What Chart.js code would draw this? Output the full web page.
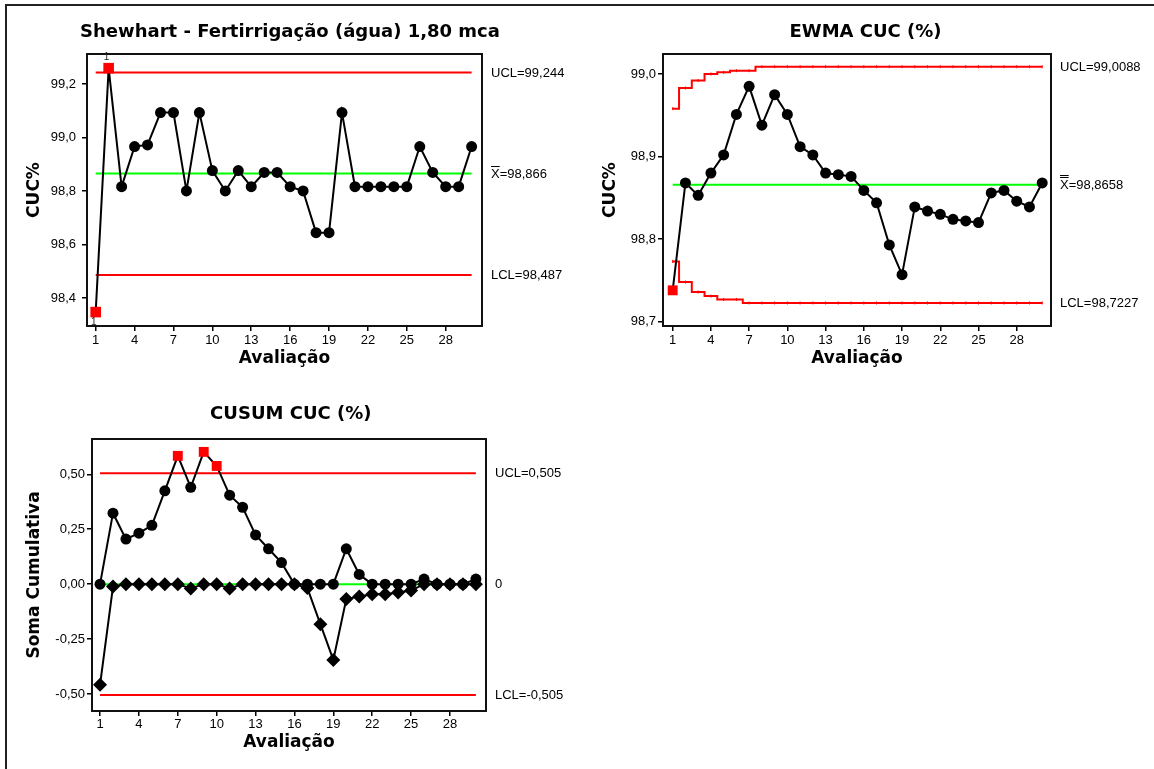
<!DOCTYPE html>
<html lang="pt">
<head>
<meta charset="utf-8">
<title>Cartas de controle - CUC</title>
<script src="https://cdn.jsdelivr.net/npm/chart.js@4.4.1/dist/chart.umd.min.js"></script>
<style>
  html, body { margin: 0; padding: 0; background: #fff; }
  #page { position: relative; width: 1154px; height: 769px; overflow: hidden; }
  #frame { position: absolute; left: 5px; top: 4px; width: 1200px; height: 800px; border: 2px solid #222; }
  canvas { position: absolute; }
  #cShew { left: 0; top: 0; }
  #cEwma { left: 575px; top: 0; }
  #cCusum { left: 0; top: 385px; }
</style>
</head>
<body>
<div id="page">
  <div id="frame"></div>
  <canvas id="cShew" width="575" height="385"></canvas>
  <canvas id="cEwma" width="579" height="385"></canvas>
  <canvas id="cCusum" width="575" height="384"></canvas>
</div>
<script>
const evals = [1, 2, 3, 4, 5, 6, 7, 8, 9, 10, 11, 12, 13, 14, 15, 16, 17, 18, 19, 20, 21, 22, 23, 24, 25, 26, 27, 28, 29, 30];
const xTicks = [1, 4, 7, 10, 13, 16, 19, 22, 25, 28];

// Shewhart (individuais)
const shewCuc = [98.348, 99.26, 98.817, 98.967, 98.973, 99.094, 99.094, 98.801, 99.094, 98.877,
  98.801, 98.877, 98.817, 98.870, 98.870, 98.817, 98.801, 98.645, 98.645, 99.094,
  98.817, 98.817, 98.817, 98.817, 98.817, 98.967, 98.870, 98.817, 98.817, 98.967];
const shewUcl = 99.244;
const shewMean = 98.866;
const shewLcl = 98.487;
const shewYTicks = [98.4, 98.6, 98.8, 99.0, 99.2];

// EWMA
const ewmaCuc = [98.738, 98.868, 98.853, 98.880, 98.902, 98.951, 98.985, 98.938, 98.975, 98.951,
  98.912, 98.902, 98.880, 98.878, 98.876, 98.859, 98.844, 98.793, 98.757, 98.839,
  98.834, 98.830, 98.824, 98.822, 98.820, 98.856, 98.859, 98.846, 98.839, 98.868];
const ewmaUcl = [98.958, 98.983, 98.992, 99.000, 99.002, 99.004, 99.004, 99.0088, 99.0088, 99.0088,
  99.0088, 99.0088, 99.0088, 99.0088, 99.0088, 99.0088, 99.0088, 99.0088, 99.0088, 99.0088,
  99.0088, 99.0088, 99.0088, 99.0088, 99.0088, 99.0088, 99.0088, 99.0088, 99.0088, 99.0088];
const ewmaLcl = [98.773, 98.748, 98.736, 98.731, 98.727, 98.727, 98.7227, 98.7227, 98.7227, 98.7227,
  98.7227, 98.7227, 98.7227, 98.7227, 98.7227, 98.7227, 98.7227, 98.7227, 98.7227, 98.7227,
  98.7227, 98.7227, 98.7227, 98.7227, 98.7227, 98.7227, 98.7227, 98.7227, 98.7227, 98.7227];
const ewmaMean = 98.8658;
const ewmaYTicks = [98.7, 98.8, 98.9, 99.0];

// CUSUM
const cusumUp = [0, 0.323, 0.205, 0.232, 0.268, 0.425, 0.584, 0.441, 0.602, 0.538,
  0.405, 0.350, 0.224, 0.161, 0.098, 0, 0, 0, 0, 0.161,
  0.044, 0, 0, 0, 0, 0.023, 0, 0, 0, 0.023];
const cusumLo = [-0.458, -0.011, 0, 0, 0, 0, 0, -0.02, 0, 0,
  -0.02, 0, 0, 0, 0, 0, -0.018, -0.182, -0.345, -0.068,
  -0.056, -0.046, -0.046, -0.038, -0.029, 0, 0, 0, 0, 0];
const cusumH = 0.505;
const cusumYTicks = [-0.5, -0.25, 0, 0.25, 0.5];

const RED = '#ff0000';
const GREEN = '#00ff00';
const TXT = '"Liberation Sans", sans-serif';
const BOLD = '"DejaVu Sans", sans-serif';

const br = (v, d) => v.toFixed(d).replace('.', ',');
const pts = arr => arr.map((v, i) => ({ x: evals[i], y: v }));
const hline = (v, color) => ({
  data: [{ x: evals[0], y: v }, { x: evals[evals.length - 1], y: v }],
  borderColor: color, borderWidth: 2, pointRadius: 0, order: 5,
});

// frame, title, limit labels and test flags drawn on the canvas
function spcText(cfg) {
  return {
    id: 'spcText',
    afterDraw(chart) {
      const { ctx, chartArea: a, scales: { x, y } } = chart;
      ctx.save();
      ctx.strokeStyle = '#111';
      ctx.lineWidth = 2;
      ctx.strokeRect(a.left, a.top, a.right - a.left, a.bottom - a.top);

      ctx.fillStyle = '#000';
      ctx.textBaseline = 'middle';
      ctx.textAlign = 'center';
      ctx.font = 'bold 18px ' + BOLD;
      ctx.fillText(cfg.title, cfg.titleX, cfg.titleY);

      ctx.textAlign = 'left';
      ctx.font = '13px ' + TXT;
      const lx = a.right + 9;
      for (const l of cfg.labels) {
        const ly = y.getPixelForValue(l.value) + 0.5;
        ctx.fillText(l.text, lx, ly);
        if (l.bars) {
          const w = ctx.measureText('X').width;
          for (let i = 0; i < l.bars; i++) ctx.fillRect(lx, Math.round(ly - 8 - i * 2.5), w, 1);
        }
      }

      if (cfg.flags) {
        ctx.font = '10px ' + TXT;
        ctx.fillStyle = '#222';
        ctx.textAlign = 'center';
        cfg.flags.forEach((f, i) => {
          if (!f) return;
          const px = x.getPixelForValue(evals[i]) - 2;
          const py = y.getPixelForValue(cfg.values[i]);
          ctx.fillText('1', px, f > 0 ? py - 11 : py + 10);
        });
      }
      ctx.restore();
    },
  };
}

function spcChart(id, c) {
  return new Chart(document.getElementById(id), {
    type: 'line',
    data: { datasets: c.datasets },
    options: {
      responsive: false,
      animation: false,
      events: [],
      layout: { padding: { left: 0, top: 54, right: c.padRight, bottom: 0 } },
      plugins: { legend: { display: false }, tooltip: { enabled: false } },
      scales: {
        x: {
          type: 'linear',
          min: c.xMin,
          max: c.xMax,
          afterBuildTicks: s => { s.ticks = xTicks.map(v => ({ value: v })); },
          afterFit: s => { s.height = c.xHeight; },
          ticks: { color: '#000', font: { family: TXT, size: 13 }, padding: c.xTickPad, maxRotation: 0, autoSkip: false, callback: v => String(v) },
          grid: { drawOnChartArea: false, drawTicks: true, tickLength: 5, color: '#000', lineWidth: 1.5 },
          border: { display: false },
          title: { display: true, text: 'Avaliação', color: '#000', font: { family: BOLD, size: 17, weight: 'bold' }, padding: { top: 0, bottom: c.xTitlePad } },
        },
        y: {
          min: c.yMin,
          max: c.yMax,
          afterBuildTicks: s => { s.ticks = c.yTicks.map(v => ({ value: v })); },
          afterFit: s => { s.width = c.yWidth; },
          ticks: { color: '#000', font: { family: TXT, size: 13 }, padding: c.yTickPad, autoSkip: false, callback: v => br(v, c.yDec) },
          grid: { drawOnChartArea: false, drawTicks: true, tickLength: 5, color: '#000', lineWidth: 1.5 },
          border: { display: false },
          title: { display: true, text: c.yTitle, color: '#000', font: { family: BOLD, size: 17, weight: 'bold' }, padding: { top: c.yTitlePad, bottom: 0 } },
        },
      },
    },
    plugins: [spcText(c.text)],
  });
}

// Shewhart
const shewFlags = shewCuc.map(v => v > shewUcl ? 1 : v < shewLcl ? -1 : 0);
spcChart('cShew', {
  padRight: 93, xMin: 0.33, xMax: 30.8, xHeight: 59, xTickPad: 2, xTitlePad: 15.8,
  yMin: 98.296, yMax: 99.313, yTicks: shewYTicks, yDec: 1, yWidth: 87, yTickPad: 6,
  yTitle: 'CUC%', yTitlePad: 24.5,
  datasets: [
    {
      data: pts(shewCuc), borderColor: '#000', borderWidth: 2, order: 0,
      pointStyle: shewFlags.map(f => f ? 'rect' : 'circle'),
      pointRadius: shewFlags.map(f => f ? 7.5 : 5.5),
      pointBackgroundColor: shewFlags.map(f => f ? RED : '#000'),
      pointBorderWidth: 0,
    },
    hline(shewUcl, RED), hline(shewMean, GREEN), hline(shewLcl, RED),
  ],
  text: {
    title: 'Shewhart - Fertirrigação (água) 1,80 mca', titleX: 290, titleY: 32.5,
    labels: [
      { text: 'UCL=' + br(shewUcl, 3), value: shewUcl },
      { text: 'X=' + br(shewMean, 3), value: shewMean, bars: 1 },
      { text: 'LCL=' + br(shewLcl, 3), value: shewLcl },
    ],
    flags: shewFlags, values: shewCuc,
  },
});

// EWMA
const ewmaFlags = ewmaCuc.map((v, i) => v > ewmaUcl[i] || v < ewmaLcl[i]);
const stepLimit = arr => ({
  data: pts(arr), stepped: 'middle', borderColor: RED, borderWidth: 2, order: 5,
  pointStyle: 'line', pointRotation: 90, pointRadius: 1.5, pointBorderColor: RED, pointBorderWidth: 1,
});
spcChart('cEwma', {
  padRight: 103, xMin: 0.24, xMax: 30.69, xHeight: 59, xTickPad: 2, xTitlePad: 15.8,
  yMin: 98.6948, yMax: 99.0242, yTicks: ewmaYTicks, yDec: 1, yWidth: 88, yTickPad: 2,
  yTitle: 'CUC%', yTitlePad: 25.5,
  datasets: [
    {
      data: pts(ewmaCuc), borderColor: '#000', borderWidth: 2, order: 0,
      pointStyle: ewmaFlags.map(f => f ? 'rect' : 'circle'),
      pointRadius: ewmaFlags.map(f => f ? 7 : 5.5),
      pointBackgroundColor: ewmaFlags.map(f => f ? RED : '#000'),
      pointBorderWidth: 0,
    },
    stepLimit(ewmaUcl), hline(ewmaMean, GREEN), stepLimit(ewmaLcl),
  ],
  text: {
    title: 'EWMA CUC (%)', titleX: 290.5, titleY: 32.5,
    labels: [
      { text: 'UCL=' + br(ewmaUcl[ewmaUcl.length - 1], 4), value: ewmaUcl[ewmaUcl.length - 1] },
      { text: 'X=' + br(ewmaMean, 4), value: ewmaMean, bars: 2 },
      { text: 'LCL=' + br(ewmaLcl[ewmaLcl.length - 1], 4), value: ewmaLcl[ewmaLcl.length - 1] },
    ],
  },
});

// CUSUM
const upFlags = cusumUp.map(v => v > cusumH);
const loFlags = cusumLo.map(v => v < -cusumH);
spcChart('cCusum', {
  padRight: 89, xMin: 0.38, xMax: 30.78, xHeight: 58, xTickPad: 0.5, xTitlePad: 16.1,
  yMin: -0.5774, yMax: 0.6607, yTicks: cusumYTicks, yDec: 2, yWidth: 92, yTickPad: 2,
  yTitle: 'Soma Cumulativa', yTitlePad: 24.5,
  datasets: [
    {
      data: pts(cusumUp), borderColor: '#000', borderWidth: 2, order: 0,
      pointStyle: upFlags.map(f => f ? 'rect' : 'circle'),
      pointRadius: upFlags.map(f => f ? 7 : 5.5),
      pointBackgroundColor: upFlags.map(f => f ? RED : '#000'),
      pointBorderWidth: 0,
    },
    {
      data: pts(cusumLo), borderColor: '#000', borderWidth: 2, order: 1,
      pointStyle: loFlags.map(f => f ? 'rect' : 'rectRot'),
      pointRadius: 7,
      pointBackgroundColor: loFlags.map(f => f ? RED : '#000'),
      pointBorderWidth: 0,
    },
    hline(cusumH, RED), hline(0, GREEN), hline(-cusumH, RED),
  ],
  text: {
    title: 'CUSUM CUC (%)', titleX: 290.8, titleY: 29.5,
    labels: [
      { text: 'UCL=' + br(cusumH, 3), value: cusumH },
      { text: '0', value: 0 },
      { text: 'LCL=' + br(-cusumH, 3), value: -cusumH },
    ],
  },
});
</script>
</body>
</html>
